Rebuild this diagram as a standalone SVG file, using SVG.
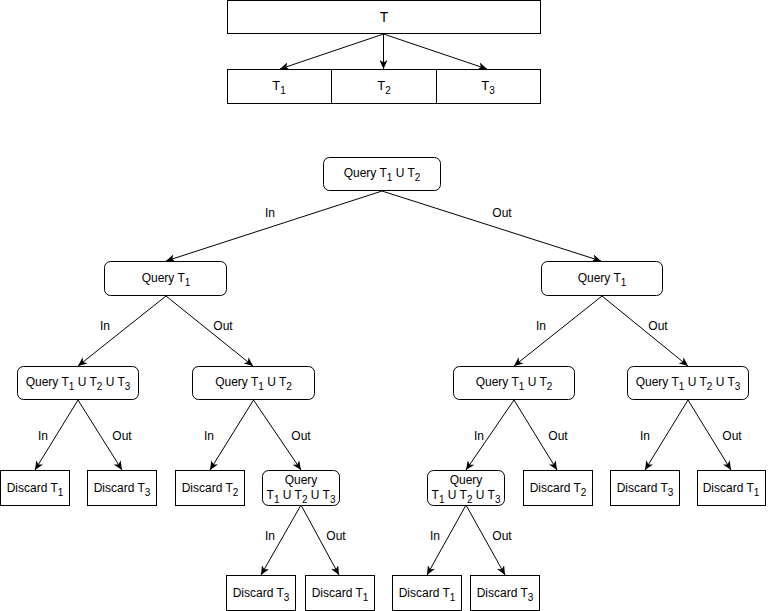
<svg xmlns="http://www.w3.org/2000/svg" width="768" height="611" viewBox="0 0 768 611">
<style>
.b{fill:#fff;stroke:#000;stroke-width:1}
.t{font-family:"Liberation Sans",Arial,sans-serif;font-size:12px;fill:#000;text-anchor:middle}
.s{font-size:10px}
.e{fill:none;stroke:#000;stroke-width:1;marker-end:url(#a)}
</style>
<defs>
<marker id="a" markerUnits="userSpaceOnUse" viewBox="0 0 10 8" refX="9" refY="4" markerWidth="10" markerHeight="8" orient="auto">
<path d="M0,0 L9,4 L0,8 L2.5,4 z" fill="#000"/>
</marker>
</defs>
<rect width="768" height="611" fill="#fff"/>
<g id="T">
<rect class="b" x="227.5" y="0.5" width="313" height="33"/>
<text class="t" x="384" y="22" style="font-size:14px">T</text>
</g>
<g id="Tparts">
<rect class="b" x="227.5" y="69.5" width="104" height="34"/>
<rect class="b" x="331.5" y="69.5" width="105" height="34"/>
<rect class="b" x="436.5" y="69.5" width="104" height="34"/>
<text class="t" x="279" y="90" style="font-size:13px">T<tspan class="s" dy="4">1</tspan></text>
<text class="t" x="384" y="90" style="font-size:13px">T<tspan class="s" dy="4">2</tspan></text>
<text class="t" x="488" y="90" style="font-size:13px">T<tspan class="s" dy="4">3</tspan></text>
</g>
<g id="connectors">
<path class="e" d="M383.5,34 L280,69"/>
<path class="e" d="M383.5,34 L383.5,69"/>
<path class="e" d="M383.5,34 L487,69"/>
<path class="e" d="M382,191 L166,261"/>
<path class="e" d="M382,191 L601,261"/>
<path class="e" d="M166,296 L78,366"/>
<path class="e" d="M166,296 L253,366"/>
<path class="e" d="M602,296 L514,366"/>
<path class="e" d="M602,296 L688,366"/>
<path class="e" d="M78,400 L35,470"/>
<path class="e" d="M78,400 L122,470"/>
<path class="e" d="M253.5,400 L210,470"/>
<path class="e" d="M253.5,400 L301,470"/>
<path class="e" d="M514,400 L466,470"/>
<path class="e" d="M514,400 L557,470"/>
<path class="e" d="M688,400 L645,470"/>
<path class="e" d="M688,400 L731,470"/>
<path class="e" d="M301,505 L261,575"/>
<path class="e" d="M301,505 L339,575"/>
<path class="e" d="M466,505 L427,575"/>
<path class="e" d="M466,505 L505,575"/>
</g>
<g id="labels">
<text class="t" x="270" y="217">In</text>
<text class="t" x="502" y="217">Out</text>
<text class="t" x="105" y="330">In</text>
<text class="t" x="223" y="330">Out</text>
<text class="t" x="541" y="330">In</text>
<text class="t" x="658" y="330">Out</text>
<text class="t" x="43" y="440">In</text>
<text class="t" x="122" y="440">Out</text>
<text class="t" x="209" y="440">In</text>
<text class="t" x="301" y="440">Out</text>
<text class="t" x="479" y="440">In</text>
<text class="t" x="558" y="440">Out</text>
<text class="t" x="645" y="440">In</text>
<text class="t" x="732" y="440">Out</text>
<text class="t" x="270" y="540">In</text>
<text class="t" x="336" y="540">Out</text>
<text class="t" x="435" y="540">In</text>
<text class="t" x="502" y="540">Out</text>
</g>
<g id="q0">
<rect class="b" x="323.5" y="157.5" width="117" height="33" rx="6"/>
<text class="t" x="382" y="177">Query T<tspan class="s" dy="4">1</tspan><tspan dy="-4"> U T</tspan><tspan class="s" dy="4">2</tspan></text>
</g>
<g id="q1L">
<rect class="b" x="104.5" y="261.5" width="122" height="34" rx="6"/>
<text class="t" x="166" y="282">Query T<tspan class="s" dy="4">1</tspan></text>
</g>
<g id="q1R">
<rect class="b" x="541.5" y="261.5" width="121" height="34" rx="6"/>
<text class="t" x="602" y="282">Query T<tspan class="s" dy="4">1</tspan></text>
</g>
<g id="q2a">
<rect class="b" x="17.5" y="366.5" width="121" height="33" rx="6"/>
<text class="t" x="78" y="386">Query T<tspan class="s" dy="4">1</tspan><tspan dy="-4"> U T</tspan><tspan class="s" dy="4">2</tspan><tspan dy="-4"> U T</tspan><tspan class="s" dy="4">3</tspan></text>
</g>
<g id="q2b">
<rect class="b" x="192.5" y="366.5" width="122" height="33" rx="6"/>
<text class="t" x="253.5" y="386">Query T<tspan class="s" dy="4">1</tspan><tspan dy="-4"> U T</tspan><tspan class="s" dy="4">2</tspan></text>
</g>
<g id="q2c">
<rect class="b" x="453.5" y="366.5" width="121" height="33" rx="6"/>
<text class="t" x="514" y="386">Query T<tspan class="s" dy="4">1</tspan><tspan dy="-4"> U T</tspan><tspan class="s" dy="4">2</tspan></text>
</g>
<g id="q2d">
<rect class="b" x="627.5" y="366.5" width="121" height="33" rx="6"/>
<text class="t" x="688" y="386">Query T<tspan class="s" dy="4">1</tspan><tspan dy="-4"> U T</tspan><tspan class="s" dy="4">2</tspan><tspan dy="-4"> U T</tspan><tspan class="s" dy="4">3</tspan></text>
</g>
<g id="d1">
<rect class="b" x="0.5" y="470.5" width="69" height="35"/>
<text class="t" x="35" y="492">Discard T<tspan class="s" dy="4">1</tspan></text>
</g>
<g id="d2">
<rect class="b" x="87.5" y="470.5" width="69" height="35"/>
<text class="t" x="122" y="492">Discard T<tspan class="s" dy="4">3</tspan></text>
</g>
<g id="d3">
<rect class="b" x="175.5" y="470.5" width="69" height="35"/>
<text class="t" x="210" y="492">Discard T<tspan class="s" dy="4">2</tspan></text>
</g>
<g id="q3a">
<rect class="b" x="262.5" y="470.5" width="77" height="35" rx="6"/>
<text class="t" x="301" y="484">Query</text>
<text class="t" x="301" y="499">T<tspan class="s" dy="4">1</tspan><tspan dy="-4"> U T</tspan><tspan class="s" dy="4">2</tspan><tspan dy="-4"> U T</tspan><tspan class="s" dy="4">3</tspan></text>
</g>
<g id="q3b">
<rect class="b" x="427.5" y="470.5" width="77" height="35" rx="6"/>
<text class="t" x="466" y="484">Query</text>
<text class="t" x="466" y="499">T<tspan class="s" dy="4">1</tspan><tspan dy="-4"> U T</tspan><tspan class="s" dy="4">2</tspan><tspan dy="-4"> U T</tspan><tspan class="s" dy="4">3</tspan></text>
</g>
<g id="d4">
<rect class="b" x="523.5" y="470.5" width="69" height="35"/>
<text class="t" x="558" y="492">Discard T<tspan class="s" dy="4">2</tspan></text>
</g>
<g id="d5">
<rect class="b" x="610.5" y="470.5" width="69" height="35"/>
<text class="t" x="645" y="492">Discard T<tspan class="s" dy="4">3</tspan></text>
</g>
<g id="d6">
<rect class="b" x="697.5" y="470.5" width="68" height="35"/>
<text class="t" x="731" y="492">Discard T<tspan class="s" dy="4">1</tspan></text>
</g>
<g id="d7">
<rect class="b" x="226.5" y="575.5" width="69" height="35"/>
<text class="t" x="261" y="597">Discard T<tspan class="s" dy="4">3</tspan></text>
</g>
<g id="d8">
<rect class="b" x="305.5" y="575.5" width="69" height="35"/>
<text class="t" x="340" y="597">Discard T<tspan class="s" dy="4">1</tspan></text>
</g>
<g id="d9">
<rect class="b" x="392.5" y="575.5" width="69" height="35"/>
<text class="t" x="427" y="597">Discard T<tspan class="s" dy="4">1</tspan></text>
</g>
<g id="d10">
<rect class="b" x="470.5" y="575.5" width="69" height="35"/>
<text class="t" x="505" y="597">Discard T<tspan class="s" dy="4">3</tspan></text>
</g>
</svg>
